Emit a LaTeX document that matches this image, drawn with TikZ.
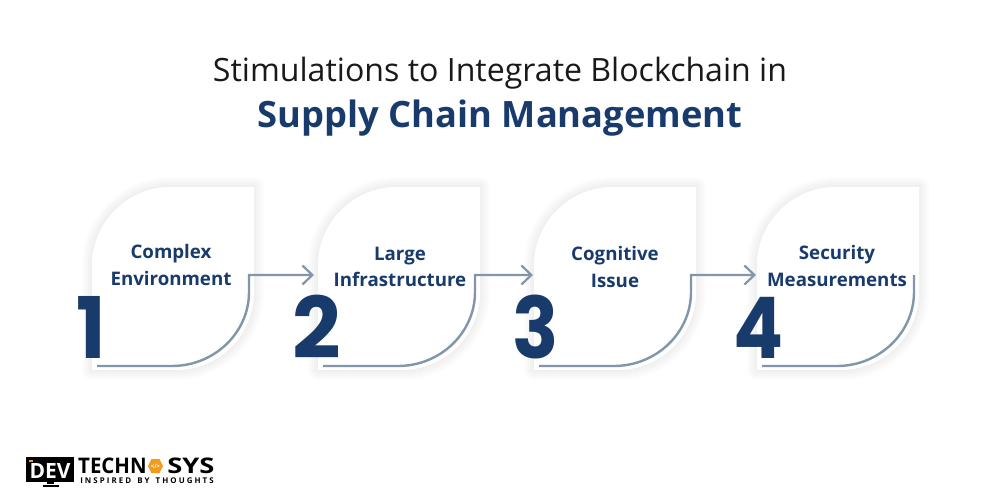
\documentclass[tikz,border=0pt]{standalone}
\usepackage{fontspec}
\setmainfont{Open Sans}
\newfontfamily\numfont{Poppins}[BoldFont={Poppins Bold}]
\usetikzlibrary{arrows.meta,calc}
\definecolor{navy}{HTML}{183B6B}
\definecolor{steel}{HTML}{8295A9}
\definecolor{amber}{HTML}{F59A1B}
\tikzset{
  cardlabel/.style={font=\fontsize{18.7}{26.5}\selectfont\bfseries,text=navy,align=center,inner sep=0pt},
  num/.style={font=\fontsize{85}{85}\selectfont\numfont\bfseries,text=navy,inner sep=0pt,anchor=base},
  link/.style={steel,line width=2.4pt,line join=miter},
  tip/.style={-{Straight Barb[length=10pt,width=19pt,line width=2.2pt]}},
  logotext/.style={font=\fontsize{21.5}{21.5}\selectfont\bfseries,text=black,inner sep=0pt,anchor=base west}
}
\newcommand{\leafpath}[1]{(#1+78,187) -- (#1+162,187) -- (#1+162,292)
  .. controls (#1+162,336) and (#1+126,370) .. (#1+84,370) -- (#1,370) --
  (#1,265) .. controls (#1,222) and (#1+36,187) .. (#1+78,187) -- cycle}
\newcommand{\leaf}[1]{%
  \foreach \w in {20,16,12,8,4}{\draw[black,opacity=0.012,line width=\w pt,line join=round] \leafpath{#1};}
  \fill[white] \leafpath{#1};}
\newcommand{\linkcurve}[2]{(#1) -- ++(75,0) .. controls ++(42,0) and ($(#2)+(0,58)$) .. ($(#2)+(0,17)$) -- (#2)}
\begin{document}
\begin{tikzpicture}[x=1pt,y=-1pt]
\useasboundingbox (0,0) rectangle (1000,500);
\fill[white] (0,0) rectangle (1000,500);
\node[font=\fontsize{32.1}{36}\selectfont,text=black!90,inner sep=0pt,anchor=base] (t1) at (500,82) {Stimulations to Integrate Blockchain in};
\node[font=\fontsize{36.3}{40}\selectfont\bfseries,text=navy,inner sep=0pt,anchor=base] (t2) at (500,128) {Supply Chain Management};
\leaf{92}\leaf{318}\leaf{534}\leaf{757}
\coordinate (s1) at (97,366);\coordinate (c1) at (249,275);\coordinate (e1) at (314,275);
\coordinate (s2) at (323,366);\coordinate (c2) at (475,275);\coordinate (e2) at (533,275);
\coordinate (s3) at (539,366);\coordinate (c3) at (691,275);\coordinate (e3) at (756,275);
\coordinate (s4) at (762,366);\coordinate (c4) at (914,275);
\draw[link,tip] \linkcurve{s1}{c1} -- (e1);
\draw[link,tip] \linkcurve{s2}{c2} -- (e2);
\draw[link,tip] \linkcurve{s3}{c3} -- (e3);
\draw[link] \linkcurve{s4}{c4};
\node[cardlabel] (a) at (171,265) {Complex\\Environment};
\node[cardlabel] (b) at (400,267) {Large\\Infrastructure};
\node[cardlabel] (c) at (615,267) {Cognitive\\Issue};
\node[cardlabel] (d) at (837,266) {Security\\Measurements};
\node[num,xscale=0.92] (n1) at (91.5,358) {1};
\node[num,xscale=1] (n2) at (317,358) {2};
\node[num,xscale=0.9] (n3) at (536,358) {3};
\node[num,xscale=0.87] (n4) at (758.5,358) {4};
% logo
\fill[black] (26,457) rectangle (74,482);
\fill[black] (47,482) rectangle (54,484);
\fill[black] (43,484.5) rectangle (59,487);
\fill[amber] (29,460) rectangle (33,462);
\node[font=\fontsize{21}{21}\selectfont\bfseries,text=white,inner sep=0pt,anchor=base] (dev) at (50,478) {DEV};
\node[logotext,xscale=0.95] (tech) at (78,473) {TECHN};
\node[logotext,xscale=1.27] (sys) at (167,473) {SYS};
\fill[amber] (163,466) -- (159.5,459) -- (151.5,459) -- (148,466) -- (151.5,473) -- (159.5,473) -- cycle;
\node[font=\fontsize{6}{6}\selectfont\bfseries,text=white,inner sep=0pt] (code) at (155.5,466) {</>};
\node[font=\fontsize{7.9}{7.9}\selectfont\bfseries,text=black,inner sep=0pt,anchor=base] (tag) at (147,483) {I N S P I R E D\ \ \ B Y\ \ \ T H O U G H T S};
\end{tikzpicture}
\end{document}
